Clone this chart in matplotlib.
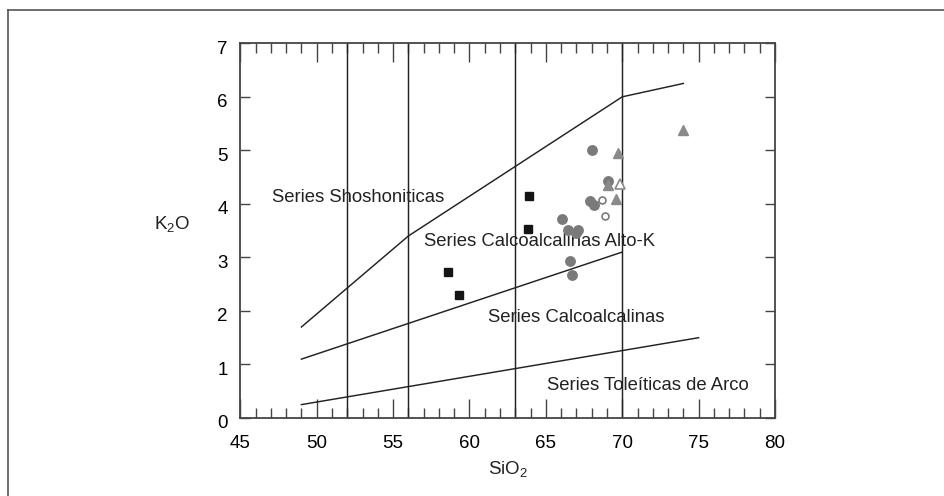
import matplotlib
matplotlib.use("Agg")
import matplotlib.pyplot as plt
import matplotlib.transforms as mtransforms
from matplotlib.lines import Line2D
from matplotlib.ticker import MultipleLocator

plt.rcParams['font.family'] = ['Liberation Sans', 'DejaVu Sans']
plt.rcParams['mathtext.fontset'] = 'custom'
plt.rcParams['mathtext.rm'] = 'Liberation Sans'
plt.rcParams['mathtext.default'] = 'regular'

# --- data (SiO2 vs K2O) ---
sq_x = [63.9, 63.85, 58.6, 59.3]
sq_y = [4.15, 3.53, 2.72, 2.30]

circ_x = [68.0, 69.1, 67.9, 68.15, 66.05, 66.45, 67.1, 67.0, 66.55, 66.7]
circ_y = [5.0, 4.42, 4.05, 3.97, 3.71, 3.52, 3.52, 3.45, 2.93, 2.68]

ocirc_x = [68.7, 68.85]
ocirc_y = [4.08, 3.78]

tri_x = [69.7, 69.1, 69.6, 74.0]
tri_y = [4.95, 4.35, 4.10, 5.38]

otri_x = [69.85]
otri_y = [4.38]

# field boundaries
shosh_x = [49, 56, 70, 74]
shosh_y = [1.7, 3.4, 6.0, 6.25]
calc_x = [49, 70]
calc_y = [1.1, 3.1]
thol_x = [49, 75]
thol_y = [0.25, 1.5]
dividers = [52, 56, 63, 70]

labels = [
    ("Series Shoshoniticas", 47.05, 4.12),
    ("Series Calcoalcalinas Alto-K", 57.0, 3.30),
    ("Series Calcoalcalinas", 61.2, 1.87),
    ("Series Toleíticas de Arco", 65.1, 0.60),
]

fig = plt.figure(figsize=(9.44, 4.96), dpi=100)
ax = fig.add_axes([240.3 / 944, 1 - 418 / 496, (775 - 240.3) / 944, (418 - 43.3) / 496])

line_c = '#222222'
for xv in dividers:
    ax.plot([xv, xv], [0, 7], color=line_c, lw=1.05)
ax.plot(shosh_x, shosh_y, color=line_c, lw=1.05)
ax.plot(calc_x, calc_y, color=line_c, lw=1.05)
ax.plot(thol_x, thol_y, color=line_c, lw=1.05)

for txt, x, y in labels:
    ax.text(x, y, txt, fontsize=13.3, color='#222222', ha='left', va='center')

ax.plot(sq_x, sq_y, 's', color='#151515', ms=6, zorder=5)
ax.plot(circ_x, circ_y, 'o', color='#7a7a7a', mec='#7a7a7a', ms=6.8, zorder=5)
ax.plot(ocirc_x, ocirc_y, 'o', mfc='white', mec='#7a7a7a', mew=1.2, ms=5, zorder=5)
ax.plot(tri_x, tri_y, '^', color='#8a8a8a', ms=7, zorder=5)
ax.plot(otri_x, otri_y, '^', mfc='white', mec='#8a8a8a', mew=1.2, ms=6.5, zorder=5)

ax.set_xlim(45, 80)
ax.set_ylim(0, 7)
ax.xaxis.set_major_locator(MultipleLocator(5))
ax.xaxis.set_minor_locator(MultipleLocator(1))
ax.yaxis.set_major_locator(MultipleLocator(1))

spine_c = '#444444'
for s in ax.spines.values():
    s.set_color(spine_c)
    s.set_linewidth(1.3)

ax.tick_params(axis='x', which='major', direction='in', length=14, width=1.0,
               color=spine_c, top=True, bottom=True, labelsize=13.5, pad=12)
ax.tick_params(axis='x', which='minor', direction='in', length=7.2, width=1.0,
               color=spine_c, top=True, bottom=True)
ax.tick_params(axis='y', which='major', direction='in', length=7.2, width=1.0,
               color=spine_c, left=True, right=True, labelsize=13.5, pad=9)

# y tick labels sit a little below their ticks in the original
offset = mtransforms.ScaledTranslation(0, -4 / 100, fig.dpi_scale_trans)
for lab in ax.get_yticklabels():
    lab.set_transform(lab.get_transform() + offset)

ax.set_xlabel('SiO$_2$', fontsize=13.5, labelpad=5, color='#222222')
ax.set_ylabel('K$_2$O', fontsize=13.5, rotation=0, color='#222222')
ax.yaxis.set_label_coords(-0.128, 0.49)

# outer frame (left and top edges only)
fig.add_artist(Line2D([7.5 / 944, 7.5 / 944], [0, 1 - 9.5 / 496], transform=fig.transFigure,
                      color='#555555', lw=1.2))
fig.add_artist(Line2D([7.5 / 944, 1], [1 - 9.5 / 496, 1 - 9.5 / 496], transform=fig.transFigure,
                      color='#555555', lw=1.2))

fig.savefig('out.png', dpi=100)
